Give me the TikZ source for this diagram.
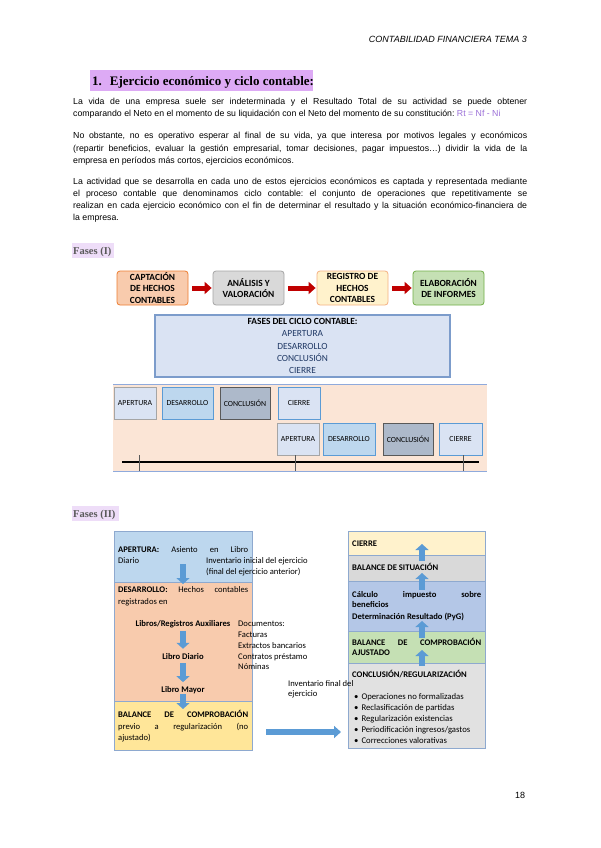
\documentclass[tikz,border=0pt]{standalone}
\usepackage{fontspec}
\setmainfont{Liberation Sans}
\newfontfamily\calib{Carlito}
\newfontfamily\titlefont{Liberation Serif}
\usetikzlibrary{arrows.meta}
\definecolor{titlehl}{HTML}{DDAAF5}
\definecolor{fasehl}{HTML}{EEDDF8}
\definecolor{fasetxt}{HTML}{5A5A5A}
\definecolor{purpletxt}{HTML}{9B6FD8}
\definecolor{orfill}{HTML}{F8CBAD}
\definecolor{ordraw}{HTML}{ED7D31}
\definecolor{gyfill}{HTML}{D9D9D9}
\definecolor{gydraw}{HTML}{A5A5A5}
\definecolor{ylfill}{HTML}{FFF2CC}
\definecolor{yldraw}{HTML}{F4B183}
\definecolor{grfill}{HTML}{C5E0B4}
\definecolor{grdraw}{HTML}{70AD47}
\definecolor{redarr}{HTML}{C00000}
\definecolor{cicfill}{HTML}{DAE3F3}
\definecolor{cicdraw}{HTML}{7C9CCB}
\definecolor{cictxt}{HTML}{1F3864}
\definecolor{panfill}{HTML}{FBE5D6}
\definecolor{panline}{HTML}{8FAADC}
\definecolor{ltblue}{HTML}{BDD7EE}
\definecolor{midblue}{HTML}{5B9BD5}
\definecolor{concfill}{HTML}{ADB9CA}
\definecolor{concdraw}{HTML}{595959}
\definecolor{yltwo}{HTML}{FFE699}
\definecolor{calcfill}{HTML}{B4C7E7}
\definecolor{secdraw}{HTML}{8EA9CF}
\newcommand{\jline}[2]{\makebox[#1][s]{#2}}
\frenchspacing
\tikzset{
 body/.style={inner sep=0, anchor=base west, font=\fontsize{8.75}{12}\selectfont},
 phasebox/.style={draw, rounded corners=3pt, line width=0.8pt, minimum width=71pt, minimum height=34pt, inner sep=0, align=center, font=\calib\bfseries\fontsize{9.4}{11.7}\selectfont},
 redarrow/.style={draw=redarr, line width=5pt, -{Triangle[width=12pt,length=7pt]}, shorten <=4pt, shorten >=1pt},
 tlbox/.style={draw, line width=1pt, minimum height=32pt, inner sep=0, font=\calib\fontsize{7.8}{9}\selectfont},
 sec/.style={draw=secdraw, line width=0.6pt},
 txt/.style={inner sep=0, anchor=base west, font=\calib\fontsize{8.6}{11}\selectfont},
 rtxt/.style={inner sep=0, anchor=base west, font=\calib\bfseries\fontsize{8.6}{11}\selectfont},
 ctxt/.style={inner sep=0, anchor=center, font=\calib\bfseries\fontsize{8.6}{11}\selectfont},
 btxt/.style={inner sep=0, anchor=base west, font=\calib\fontsize{8.7}{11}\selectfont},
 bluearrow/.style={draw=midblue, line width=6pt, -{Triangle[width=13pt,length=6pt]}},
 faselbl/.style={inner sep=0, anchor=base west, text=fasetxt, font=\titlefont\bfseries\fontsize{10.5}{12}\selectfont},
}
\begin{document}
\frenchspacing
\begin{tikzpicture}[x=1pt,y=-1pt]
\useasboundingbox (0,0) rectangle (600,848);
\fill[white] (0,0) rectangle (600,848);

% header
\node[inner sep=0, anchor=base east, font=\itshape\fontsize{9}{10}\selectfont] (hdr) at (527,43) {CONTABILIDAD FINANCIERA TEMA 3};

% title
\fill[titlehl] (90,70) rectangle (313,91);
\node[inner sep=0, anchor=base west, font=\titlefont\bfseries\fontsize{13}{15}\selectfont] (ttl) at (92,85.5) {1.\hspace{8pt}Ejercicio económico y ciclo contable:};

% paragraphs
\node[body] (p1a) at (73,105) {\jline{454pt}{La vida de una empresa suele ser indeterminada y el Resultado Total de su actividad se puede obtener}};
\node[body] (p1b) at (73,117) {comparando el Neto en el momento de su liquidación con el Neto del momento de su constitución: \textcolor{purpletxt}{Rt = Nf - Ni}};
\node[body] (p2a) at (73,139) {\jline{454pt}{No obstante, no es operativo esperar al final de su vida, ya que interesa por motivos legales y económicos}};
\node[body] (p2b) at (73,151) {\jline{454pt}{(repartir beneficios, evaluar la gestión empresarial, tomar decisiones, pagar impuestos…) dividir la vida de la}};
\node[body] (p2c) at (73,163) {empresa en períodos más cortos, ejercicios económicos.};
\node[body] (p3a) at (73,184) {\jline{454pt}{La actividad que se desarrolla en cada uno de estos ejercicios económicos es captada y representada mediante}};
\node[body] (p3b) at (73,196) {\jline{454pt}{el proceso contable que denominamos ciclo contable: el conjunto de operaciones que repetitivamente se}};
\node[body] (p3c) at (73,208) {\jline{454pt}{realizan en cada ejercicio económico con el fin de determinar el resultado y la situación económico-financiera de}};
\node[body] (p3d) at (73,220) {la empresa.};

% Fases (I)
\fill[fasehl] (72,243) rectangle (114,258);
\node[faselbl] (f1) at (73,254) {Fases (I)};

\node[phasebox, fill=orfill, draw=ordraw] (b1) at (152.5,288) {CAPTACIÓN\\DE HECHOS\\CONTABLES};
\node[phasebox, fill=gyfill, draw=gydraw] (b2) at (248.5,288) {ANÁLISIS Y\\VALORACIÓN};
\node[phasebox, fill=ylfill, draw=yldraw] (b3) at (352.5,288) {REGISTRO DE\\HECHOS\\CONTABLES};
\node[phasebox, fill=grfill, draw=grdraw] (b4) at (448.5,288) {ELABORACIÓN\\DE INFORMES};
\draw[redarrow] (b1) -- (b2);
\draw[redarrow] (b2) -- (b3);
\draw[redarrow] (b3) -- (b4);

% ciclo box
\node[draw=cicdraw, fill=cicfill, line width=1.3pt, minimum width=295pt, minimum height=62pt, inner sep=0, align=center, text=cictxt, font=\calib\fontsize{9.4}{12.3}\selectfont] (cic) at (302.5,346) {\textcolor{black}{\bfseries FASES DEL CICLO CONTABLE:}\\APERTURA\\DESARROLLO\\CONCLUSIÓN\\CIERRE};

% timeline panel
\fill[panfill] (113,384) rectangle (487,471);
\draw[panline, line width=1.5pt] (113,384.5) -- (487,384.5);
\draw[panline, line width=1pt] (113,471) -- (487,471);

\node[tlbox, fill=cicfill, draw=gydraw, minimum width=42pt] (t1a) at (135,403) {APERTURA};
\node[tlbox, fill=ltblue, draw=midblue, minimum width=51pt] (t1d) at (187.5,403) {DESARROLLO};
\node[tlbox, fill=concfill, draw=concdraw, minimum width=50pt] (t1c) at (245,403) {CONCLUSIÓN};
\node[tlbox, fill=cicfill, draw=midblue, minimum width=42pt] (t1i) at (299,403) {CIERRE};
\node[tlbox, fill=cicfill, draw=gydraw, minimum width=42pt] (t2a) at (298,439) {APERTURA};
\node[tlbox, fill=ltblue, draw=midblue, minimum width=52pt] (t2d) at (349,439) {DESARROLLO};
\node[tlbox, fill=concfill, draw=concdraw, minimum width=50pt] (t2c) at (408,439) {CONCLUSIÓN};
\node[tlbox, fill=cicfill, draw=midblue, minimum width=43pt] (t2i) at (460.5,439) {CIERRE};

\coordinate (tlL) at (122,462);
\coordinate (tlR) at (479,462);
\draw[black, line width=1.2pt] (tlL) -- (tlR);
\draw[gray!70!black, line width=0.5pt] (139,455) -- (139,471);
\draw[gray!70!black, line width=0.5pt] (295,455) -- (295,471);
\draw[gray!70!black, line width=0.5pt] (463,455) -- (463,471);

% Fases (II)
\fill[fasehl] (72,506) rectangle (119,521);
\node[faselbl] (f2) at (73,517) {Fases (II)};

% left block
\path[sec, fill=ltblue] (114,531) rectangle (252,582);
\path[sec, fill=orfill] (114,582) rectangle (252,701);
\path[sec, fill=yltwo] (114,701) rectangle (252,750);

\node[txt] (ap1) at (118,552.5) {\jline{130pt}{\textbf{APERTURA:} Asiento en Libro}};
\node[txt] (ap2) at (118,563.5) {Diario};
\node[txt] (inv1) at (206,563.5) {Inventario inicial del ejercicio};
\node[txt] (inv2) at (206,574.5) {(final del ejercicio anterior)};
\coordinate (apS) at (183,564);
\coordinate (apE) at (183,584);
\draw[bluearrow] (apS) -- (apE);

\node[txt] (de1) at (118,592.5) {\jline{130pt}{\textbf{DESARROLLO:} Hechos contables}};
\node[txt] (de2) at (118,604.5) {registrados en};
\node[ctxt] (lra) at (183,624) {Libros/Registros Auxiliares};
\node[ctxt] (ldi) at (183,657) {Libro Diario};
\node[ctxt] (lma) at (183,690) {Libro Mayor};
\draw[bluearrow, shorten <=3pt, shorten >=5pt] (lra) -- (ldi);
\draw[bluearrow, shorten <=3pt, shorten >=4pt] (ldi) -- (lma);
\coordinate (maE) at (183,709);
\draw[bluearrow, shorten <=0pt] (lma) -- (maE);

\node[txt] (doc0) at (238,626.5) {Documentos:};
\node[txt] (doc1) at (238,637.5) {Facturas};
\node[txt] (doc2) at (238,648) {Extractos bancarios};
\node[txt] (doc3) at (238,659) {Contratos préstamo};
\node[txt] (doc4) at (238,669.5) {Nóminas};

\node[txt] (ba1) at (118,717.5) {\jline{130pt}{\textbf{BALANCE DE COMPROBACIÓN}}};
\node[txt] (ba2) at (118,729.5) {\jline{130pt}{previo a regularización (no}};
\node[txt] (ba3) at (118,740.5) {ajustado)};

% right block
\path[sec, fill=ylfill] (348,531) rectangle (485,555);
\path[sec, fill=gyfill] (348,555) rectangle (485,581);
\path[sec, fill=calcfill] (348,581) rectangle (485,631);
\path[sec, fill=grfill] (348,631) rectangle (485,663);
\path[sec, fill=gyfill!80!white] (348,663) rectangle (485,748);

\node[rtxt] (rc) at (352,546.5) {CIERRE};
\node[rtxt] (rb) at (352,570.5) {BALANCE DE SITUACIÓN};
\node[rtxt] (rk1) at (352,597.5) {\jline{129pt}{Cálculo impuesto sobre}};
\node[rtxt] (rk2) at (352,607.5) {beneficios};
\node[rtxt] (rk3) at (352,619.5) {Determinación Resultado (PyG)};
\node[rtxt] (rj1) at (352,645.5) {\jline{129pt}{BALANCE DE COMPROBACIÓN}};
\node[rtxt] (rj2) at (352,655.5) {AJUSTADO};
\node[rtxt] (rr) at (352,677.5) {CONCLUSIÓN/REGULARIZACIÓN};
\node[btxt] (bl1) at (354,699.5) {\textbullet\hspace{3pt}Operaciones no formalizadas};
\node[btxt] (bl2) at (354,710.5) {\textbullet\hspace{3pt}Reclasificación de partidas};
\node[btxt] (bl3) at (354,721.5) {\textbullet\hspace{3pt}Regularización existencias};
\node[btxt] (bl4) at (354,732.5) {\textbullet\hspace{3pt}Periodificación ingresos/gastos};
\node[btxt] (bl5) at (354,743.5) {\textbullet\hspace{3pt}Correcciones valorativas};

\coordinate (u1s) at (422,561);
\coordinate (u1e) at (422,544);
\coordinate (u2s) at (422,590);
\coordinate (u2e) at (422,573);
\coordinate (u3s) at (422,638);
\coordinate (u3e) at (422,621);
\coordinate (u4s) at (422,666);
\coordinate (u4e) at (422,650);
\draw[bluearrow] (u1s) -- (u1e);
\draw[bluearrow] (u2s) -- (u2e);
\draw[bluearrow] (u3s) -- (u3e);
\draw[bluearrow] (u4s) -- (u4e);

% middle text and arrow
\node[txt] (if1) at (288,686.5) {Inventario final del};
\node[txt] (if2) at (288,696.5) {ejercicio};
\coordinate (hS) at (266,732);
\coordinate (hE) at (341,732);
\draw[bluearrow, -{Triangle[width=12pt,length=7pt]}] (hS) -- (hE);

% page number
\node[inner sep=0, anchor=base, font=\fontsize{9}{10}\selectfont] (pg) at (520,798) {18};
\end{tikzpicture}
\end{document}
